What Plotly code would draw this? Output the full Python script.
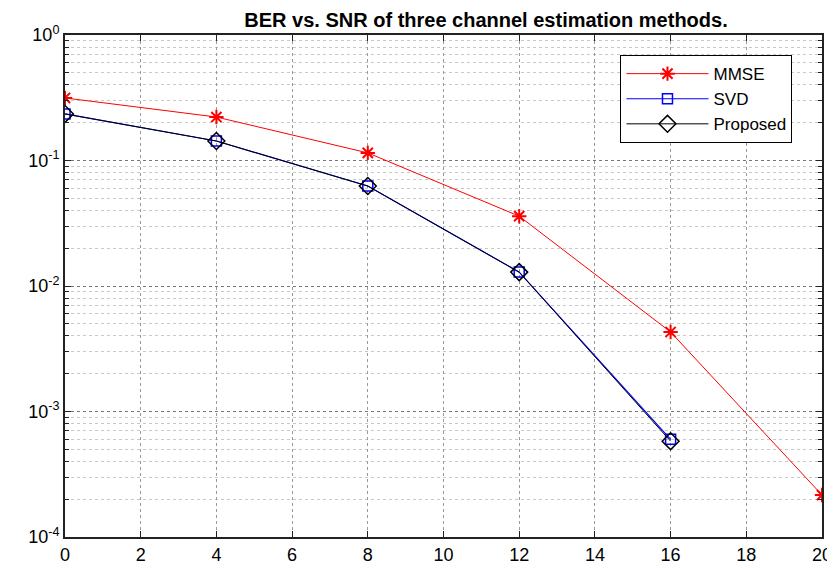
import plotly.graph_objects as go

snr = [0, 4, 8, 12, 16, 20]
mmse = [0.315, 0.222, 0.115, 0.036, 0.0043, 0.000216]
snr_svd = [0, 4, 8, 12, 16]
svd = [0.235, 0.143, 0.0626, 0.0129, 0.00060]
proposed = [0.235, 0.143, 0.0626, 0.0129, 0.00058]

x_ticks = [0, 2, 4, 6, 8, 10, 12, 14, 16, 18, 20]
y_tickvals = [1, 0.1, 0.01, 0.001, 0.0001]
y_ticktext = ["10<sup>0</sup>", "10<sup>-1</sup>", "10<sup>-2</sup>", "10<sup>-3</sup>", "10<sup>-4</sup>"]

FONT = "Liberation Sans, Arial, sans-serif"

fig = go.Figure()
fig.add_trace(go.Scatter(x=snr, y=mmse, name="MMSE", mode="lines+markers",
                         line=dict(color="#ff0000", width=1),
                         marker=dict(symbol="asterisk-open", size=12, color="#ff0000",
                                     line=dict(color="#ff0000", width=2))))
fig.add_trace(go.Scatter(x=snr_svd, y=svd, name="SVD", mode="lines+markers",
                         line=dict(color="#0000ff", width=1.2),
                         marker=dict(symbol="square-open", size=10, color="#0000ff",
                                     line=dict(color="#0000ff", width=1.5))))
fig.add_trace(go.Scatter(x=snr_svd, y=proposed, name="Proposed", mode="lines+markers",
                         line=dict(color="#000000", width=1),
                         marker=dict(symbol="diamond-open", size=13, color="#000000",
                                     line=dict(color="#000000", width=1.5))))

fig.update_layout(
    width=827, height=561,
    margin=dict(l=57, r=13, t=27, b=32, autoexpand=False),
    paper_bgcolor="white", plot_bgcolor="white",
    font=dict(family=FONT, size=18, color="black"),
    title=dict(text="<b>BER vs. SNR of three channel estimation methods.</b>",
               x=0.578, xanchor="center", y=0.979, yanchor="middle",
               font=dict(family=FONT, size=20, color="black")),
    legend=dict(x=0.961, y=0.96, xanchor="right", yanchor="top",
                bgcolor="white", bordercolor="black", borderwidth=1,
                font=dict(family=FONT, size=17, color="black"),
                itemwidth=82, tracegroupgap=0),
    showlegend=True,
)
fig.update_xaxes(range=[0, 20], tickvals=x_ticks, showline=True, linecolor="#222",
                 linewidth=2, mirror="ticks", ticks="inside", ticklen=6, tickcolor="#222",
                 showgrid=True, gridcolor="#999", griddash="dot", gridwidth=1,
                 zeroline=False, tickfont=dict(size=18), automargin=False)
fig.update_yaxes(type="log", range=[-4, 0], tickvals=y_tickvals, ticktext=y_ticktext,
                 showline=True, linecolor="#222", linewidth=2, mirror="ticks",
                 ticks="inside", ticklen=6, tickcolor="#222",
                 showgrid=True, gridcolor="#777", griddash="dot", gridwidth=1,
                 zeroline=False, tickfont=dict(size=18), automargin=False,
                 minor=dict(dtick="D1", showgrid=True, gridcolor="#c8c8c8",
                            griddash="dot", ticks="inside", ticklen=4, tickcolor="#222"))

fig.write_html("out.html")
